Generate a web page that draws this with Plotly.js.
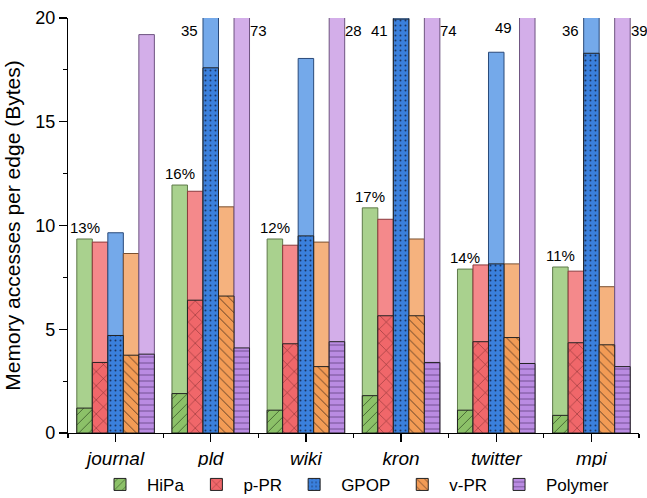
<!DOCTYPE html>
<html>
<head>
<meta charset="utf-8">
<script src="https://cdn.plot.ly/plotly-3.0.1.min.js"></script>
<style>html,body{margin:0;padding:0;background:#fff}#chart{width:647px;height:498px}</style>
</head>
<body>
<div id="chart"></div>
<script>
const categories = ['journal', 'pld', 'wiki', 'kron', 'twitter', 'mpi'];
const seriesNames = ['HiPa', 'p-PR', 'GPOP', 'v-PR', 'Polymer'];

const hipaTotal = [9.35, 11.95, 9.35, 10.85, 7.9, 8.0];
const hipaBase  = [1.2, 1.9, 1.1, 1.8, 1.1, 0.85];
const pprTotal  = [9.2, 11.65, 9.05, 10.3, 8.1, 7.8];
const pprBase   = [3.4, 6.4, 4.3, 5.65, 4.4, 4.35];
const gpopTotal = [9.65, 35, 18.05, 41, 18.35, 36];
const gpopBase  = [4.7, 17.6, 9.5, 19.95, 8.15, 18.3];
const vprTotal  = [8.65, 10.9, 9.2, 9.35, 8.15, 7.05];
const vprBase   = [3.75, 6.6, 3.2, 5.65, 4.6, 4.25];
const polyTotal = [19.2, 73, 28, 74, 49, 39];
const polyBase  = [3.8, 4.1, 4.4, 3.4, 3.35, 3.2];
const hipaPct   = ['13%', '16%', '12%', '17%', '14%', '11%'];
const polyLabelSide = ['right', 'right', 'right', 'right', 'left', 'right'];

const totals = [hipaTotal, pprTotal, gpopTotal, vprTotal, polyTotal];
const bases = [hipaBase, pprBase, gpopBase, vprBase, polyBase];

const styles = [
  {light: '#A9D18E', dark: '#8CC168', line: '#5E7A4A', fg: '#3D5A2C', shape: '/', size: 7, sol: 0.12},
  {light: '#F4898B', dark: '#F0676A', line: '#8B3A3C', fg: '#7A2A2C', shape: 'x', size: 10, sol: 0.1},
  {light: '#74A9EA', dark: '#3A80DD', line: '#2A4A7A', fg: '#1C3560', shape: '.', size: 5, sol: 0.12},
  {light: '#F5B27E', dark: '#F29B55', line: '#7A5030', fg: '#4A3020', shape: '\\', size: 7, sol: 0.12},
  {light: '#D3AEE9', dark: '#BA8BE2', line: '#6E5480', fg: '#6A4A8A', shape: '-', size: 6, sol: 0.15}
];

const FONT = 'Liberation Sans, Arial, sans-serif';
const xs = categories.map((c, i) => i);
const W = 0.163;
const traces = [];

totals.forEach((vals, s) => {
  const st = styles[s];
  traces.push({
    type: 'bar', x: xs, y: vals, width: W, offset: (s - 2.5) * W,
    marker: {color: st.light, line: {color: st.line, width: 1}},
    showlegend: false, hoverinfo: 'skip'
  });
});
bases.forEach((vals, s) => {
  const st = styles[s];
  traces.push({
    type: 'bar', x: xs, y: vals, width: W, offset: (s - 2.5) * W,
    name: seriesNames[s],
    marker: {color: st.dark, line: {color: '#222', width: 1},
      pattern: {shape: st.shape, fgcolor: st.fg, bgcolor: st.dark, size: st.size, solidity: st.sol, fillmode: 'replace'}},
    showlegend: true, hoverinfo: 'skip'
  });
});

const annotations = [];
categories.forEach((c, i) => {
  annotations.push({
    x: i + (0 - 2) * W, y: hipaTotal[i], xref: 'x', yref: 'y',
    text: hipaPct[i], showarrow: false, yanchor: 'bottom', yshift: 1,
    font: {family: FONT, size: 15, color: '#000'}
  });
  if (gpopTotal[i] > 20) {
    annotations.push({
      x: i + (2 - 2.5) * W, y: 19.4, xref: 'x', yref: 'y',
      text: String(gpopTotal[i]), showarrow: false, xanchor: 'right', xshift: -3,
      font: {family: FONT, size: 15, color: '#000'}
    });
  }
  if (polyTotal[i] > 20) {
    const right = polyLabelSide[i] === 'right';
    annotations.push({
      x: i + (right ? 2.5 : 1.5) * W, y: right ? 19.4 : 19.55, xref: 'x', yref: 'y',
      text: String(polyTotal[i]), showarrow: false,
      xanchor: right ? 'left' : 'right', xshift: right ? -1.5 : -6,
      font: {family: FONT, size: 15, color: '#000'}
    });
  }
});

const layout = {
  width: 647, height: 498,
  margin: {l: 68, r: 8, t: 18, b: 65, autoexpand: false},
  barmode: 'overlay',
  paper_bgcolor: '#fff', plot_bgcolor: '#fff',
  font: {family: FONT, color: '#000'},
  showlegend: true,
  legend: {orientation: 'h', x: 0.5, xanchor: 'center', y: -0.125, yanchor: 'middle',
    font: {family: FONT, size: 17, color: '#000'}, itemwidth: 44, traceorder: 'normal'},
  xaxis: {
    range: [-0.5, 5.5], tickmode: 'array', tickvals: xs, ticktext: categories,
    tickfont: {family: FONT, size: 19, color: '#000', style: 'italic'},
    ticks: 'outside', ticklen: 8, tickwidth: 1.2, tickcolor: '#000',
    minor: {tickmode: 'array', tickvals: [-0.5, 0.5, 1.5, 2.5, 3.5, 4.5, 5.5], ticks: 'outside', ticklen: 4, tickwidth: 1.2, tickcolor: '#000'},
    showline: true, linecolor: '#000', linewidth: 1.2, showgrid: false, zeroline: false, fixedrange: true
  },
  yaxis: {
    range: [0, 20], tickmode: 'linear', tick0: 0, dtick: 5,
    tickfont: {family: FONT, size: 18, color: '#000'},
    ticks: 'outside', ticklen: 8, tickwidth: 1.2, tickcolor: '#000',
    minor: {dtick: 2.5, ticks: 'outside', ticklen: 4, tickwidth: 1.2, tickcolor: '#000'},
    showline: true, linecolor: '#000', linewidth: 1.2, showgrid: false, zeroline: false,
    title: {text: 'Memory accesses per edge (Bytes)', font: {family: FONT, size: 21, color: '#000'}, standoff: 8},
    fixedrange: true
  },
  annotations: annotations
};

Plotly.newPlot('chart', traces, layout, {displayModeBar: false, staticPlot: true});
</script>
</body>
</html>
